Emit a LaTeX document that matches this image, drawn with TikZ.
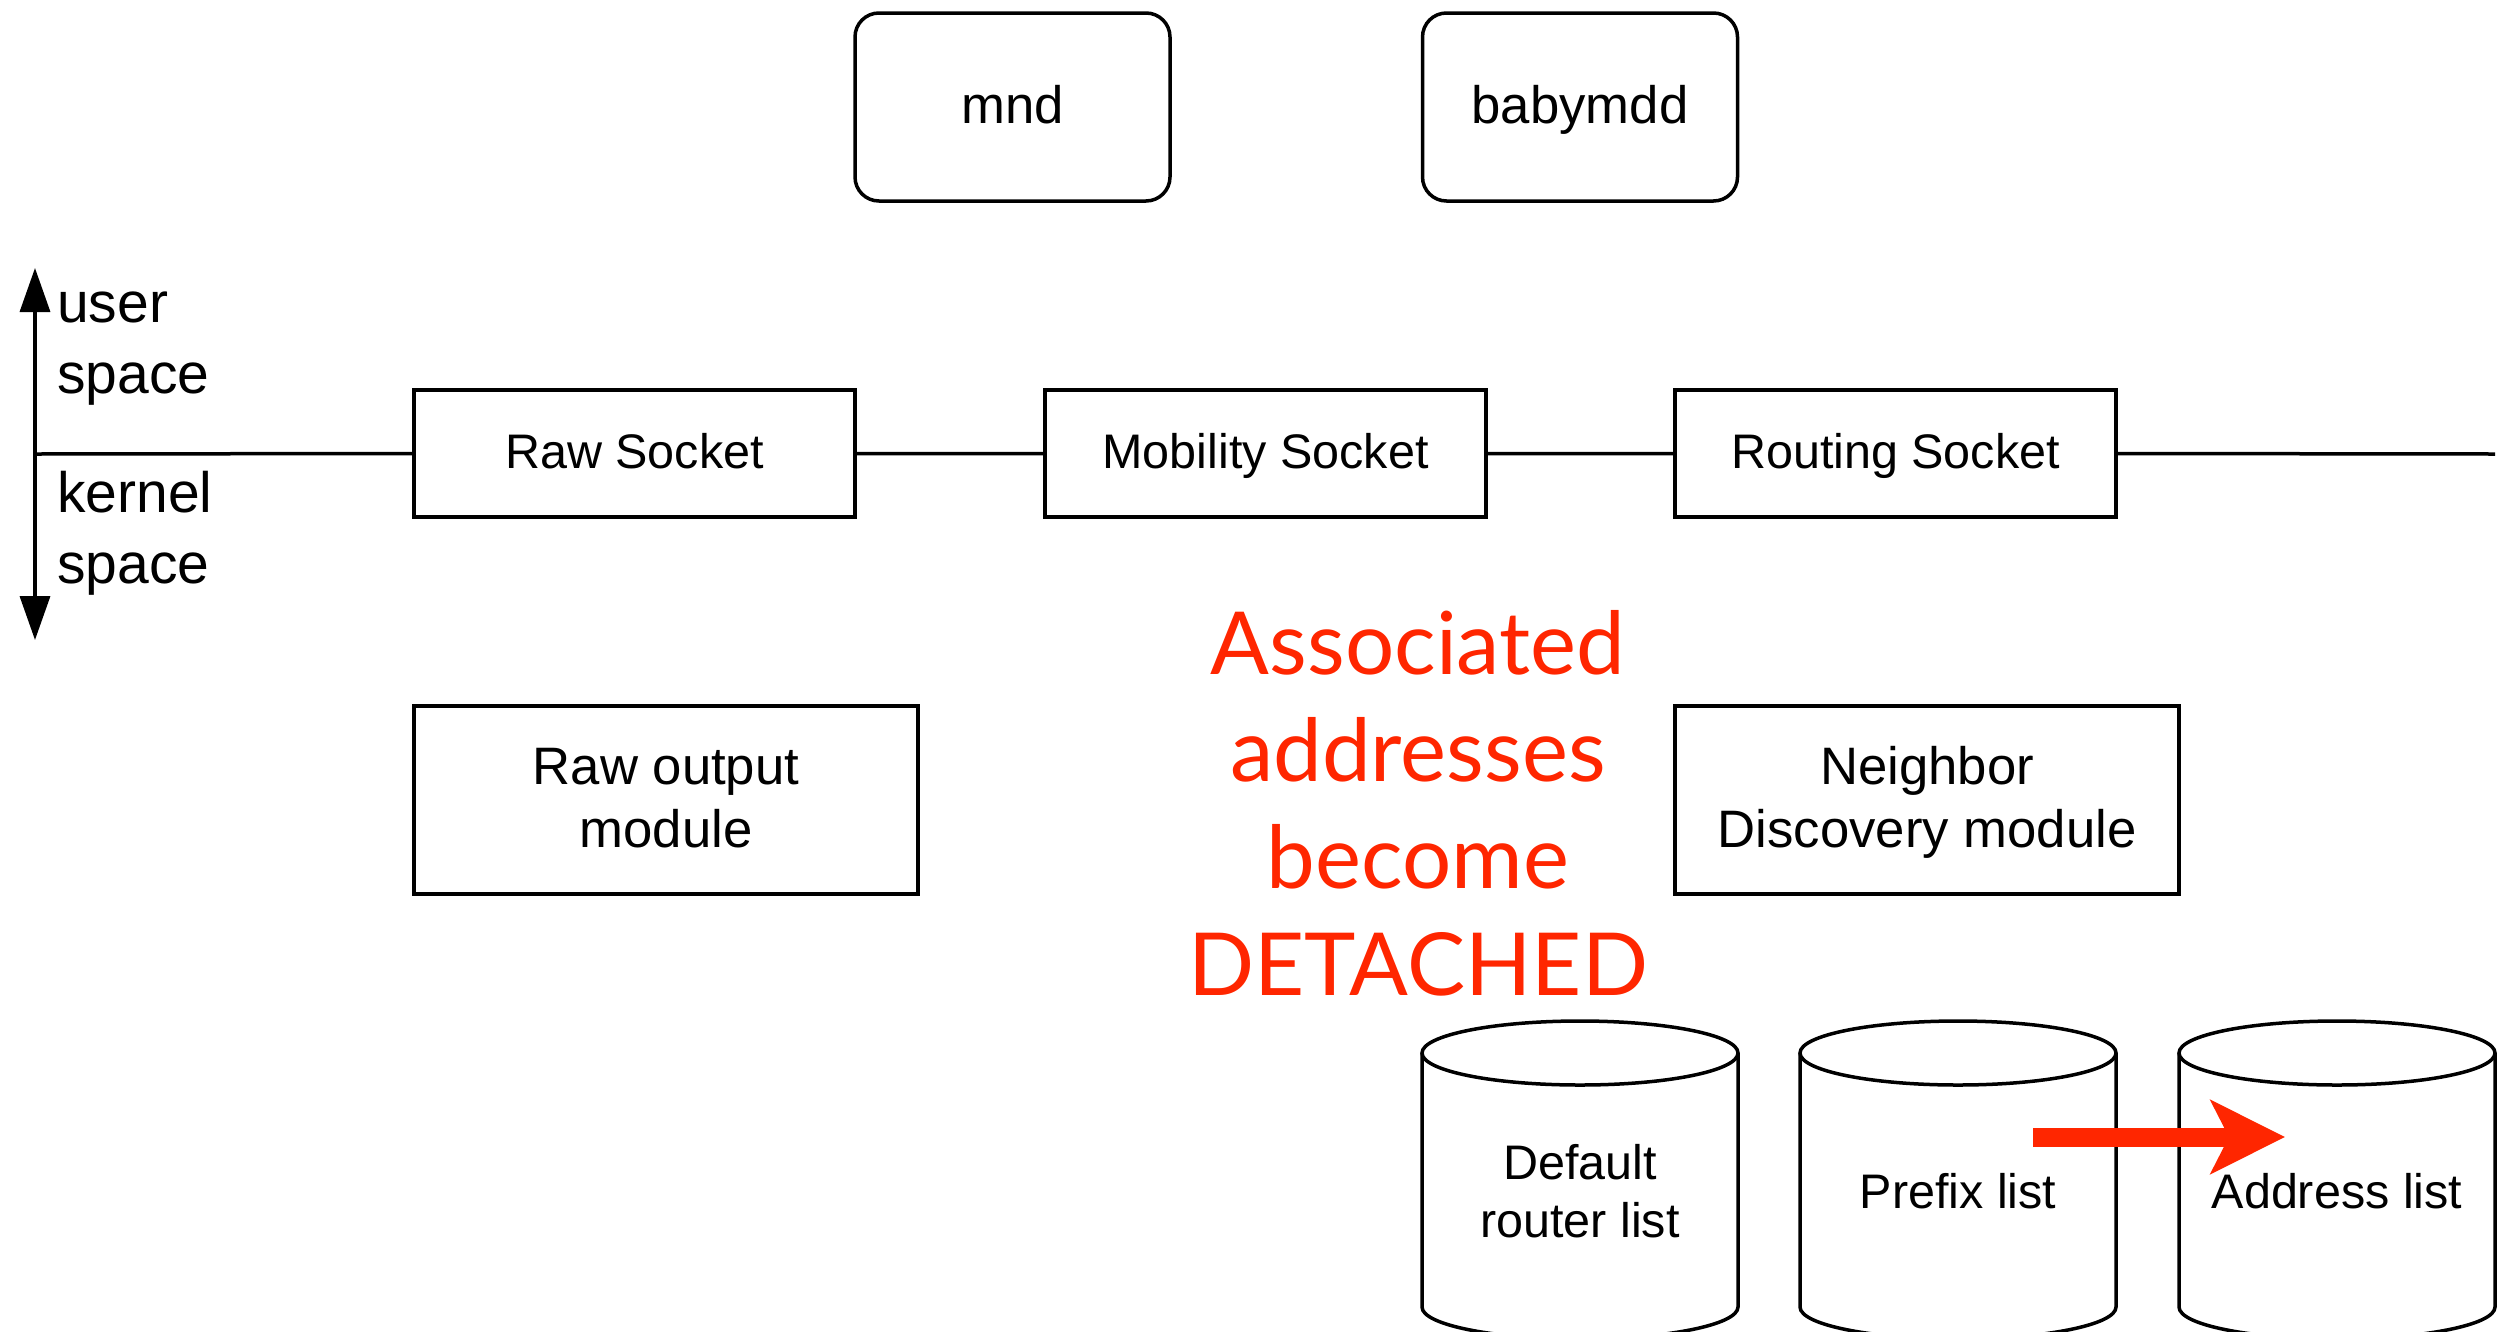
\documentclass[tikz,border=0pt]{standalone}
\usepackage{fontspec}
\setmainfont{Liberation Sans}
\newfontfamily\notefont{Lato}
\usetikzlibrary{arrows.meta}
\definecolor{alertred}{RGB}{255,38,0}
\begin{document}
\begin{tikzpicture}[x=1pt,y=-1pt,
  sock/.style={draw, line width=3.5pt, minimum width=441pt, minimum height=127pt,
    inner sep=0pt, text height=34.7pt, text depth=4.9pt, font=\fontsize{48.5}{58}\selectfont},
  module/.style={draw, line width=3.5pt, minimum width=504pt, minimum height=188pt,
    inner sep=0pt, align=center, text height=135pt, text depth=40pt,
    font=\fontsize{52.7}{63}\selectfont},
  proc/.style={draw, rounded corners=24pt, line width=3.5pt, minimum width=315pt,
    minimum height=188pt, inner sep=0pt, text height=37.7pt, text depth=5.3pt,
    font=\fontsize{52.7}{63}\selectfont},
  cyl/.style={line width=3.5pt, fill=white},
  cyltext/.style={align=center, inner sep=0pt, font=\fontsize{48.5}{58}\selectfont},
  spacelabel/.style={anchor=west, align=left, inner sep=0pt, font=\fontsize{57}{71}\selectfont},
  boundary/.style={line width=3.5pt},
]
\useasboundingbox (0,0) rectangle (2516,1331);

% user-space daemons
\node[proc] (mnd) at (1012.5,107) {mnd};
\node[proc] (baby) at (1580,107) {babymdd};

% sockets on the user/kernel boundary
\node[sock] (raw) at (634.5,453.5) {Raw Socket};
\node[sock] (mob) at (1265.5,453.5) {Mobility Socket};
\node[sock] (rout) at (1895.5,453.5) {Routing Socket};

% kernel modules
\node[module] (rawout) at (666,800) {Raw output\\module};
\node[module] (nd) at (1927,800) {Neighbor\\Discovery module};

% boundary line between user and kernel space
\coordinate (bl) at (35,454);
\coordinate (br) at (2495,454);
\draw[boundary] (bl) -- (raw.west) (raw.east) -- (mob.west) (mob.east) -- (rout.west) (rout.east) -- (br);

% user / kernel axis
\coordinate (up) at (35,268);
\coordinate (down) at (35,640);
\draw[boundary, {Triangle[length=44pt,width=30pt]}-{Triangle[length=44pt,width=30pt]}] (up) -- (down);
\node[spacelabel] (ulabel) at (57,349) {user\\space};
\node[spacelabel] (klabel) at (57,533) {kernel\\space};

% data stores
\foreach \cx in {1580,1958,2337} {
  \fill[white] (\cx-158,1053) rectangle (\cx+158,1331);
  \draw[cyl] (\cx-158,1053) -- (\cx-158,1307)
     arc[start angle=180, end angle=360, x radius=158pt, y radius=32pt] -- (\cx+158,1053);
  \draw[cyl] (\cx,1053) ellipse[x radius=158pt, y radius=32pt];
}
\node[cyltext] (drl) at (1580,1191) {Default\\router list};
\node[cyltext] (pfx) at (1958,1191) {Prefix list};
\node[cyltext] (adr) at (2337,1191) {Address list};

% annotation
\node[align=center, inner sep=0pt, text=alertred,
  font=\notefont\fontsize{87}{107}\selectfont] (note) at (1418,803)
  {Associated\\addresses\\become\\DETACHED};
\coordinate (ma) at (2033,1137);
\coordinate (mb) at (2285,1137);
\draw[alertred, line width=19pt,
  -{Stealth[length=74pt,width=73pt,inset=18pt]}] (ma) -- (mb);
\end{tikzpicture}
\end{document}
